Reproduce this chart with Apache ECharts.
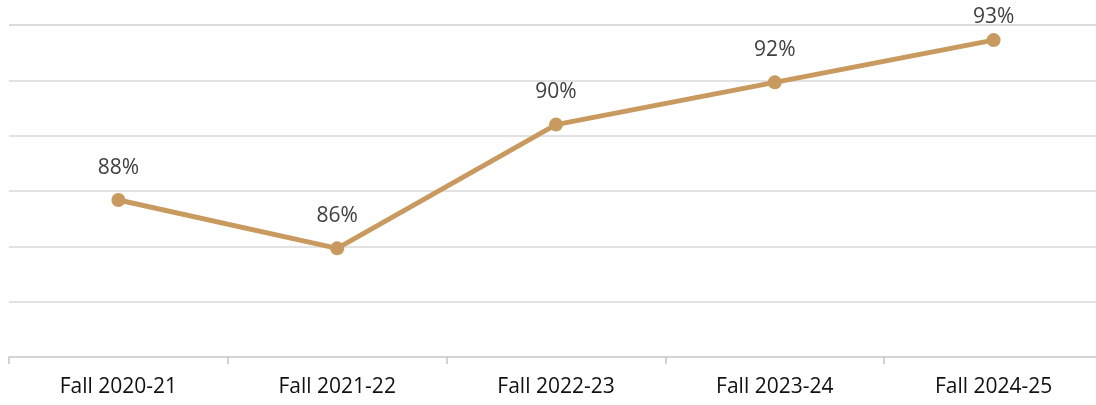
<!DOCTYPE html>
<html>
<head>
<meta charset="utf-8">
<script src="https://cdn.jsdelivr.net/npm/echarts@6/dist/echarts.min.js"></script>
<style>
  html, body { margin: 0; padding: 0; background: #fff; overflow: hidden; }
  /* plot runs a few px past the right edge in the original */
  #chart { width: 1103px; height: 405px; }
</style>
</head>
<body>
<div id="chart"></div>
<script>
// 数据
const terms = ['Fall 2020-21', 'Fall 2021-22', 'Fall 2022-23', 'Fall 2023-24', 'Fall 2024-25'];
const rates = [87.7, 86.1, 90.2, 91.6, 93.0];

const lineColor = '#C99A5F';

// last label sits lower, squeezed by the top edge like in the original
const seriesData = rates.map((v, i) => i === rates.length - 1
  ? { value: v, label: { distance: 6 } }
  : v);

const option = {
  animation: false,
  grid: {
    left: 9,
    top: 25,
    right: 0,
    bottom: 48
  },
  xAxis: {
    type: 'category',
    data: terms,
    axisLine: { lineStyle: { color: '#d0d0d0', width: 1.5 } },
    axisTick: { show: true, length: 7, lineStyle: { color: '#c4c4c4', width: 1.5 } },
    axisLabel: {
      margin: 20,
      fontFamily: 'Open Sans',
      fontSize: 21,
      color: '#111'
    }
  },
  yAxis: {
    type: 'value',
    min: 82.5,
    max: 93.5,
    interval: 11 / 6,
    axisLine: { show: false },
    axisTick: { show: false },
    axisLabel: { show: false },
    splitLine: { lineStyle: { color: '#d9d9d9', width: 1.5 } }
  },
  series: [{
    type: 'line',
    data: seriesData,
    symbol: 'circle',
    symbolSize: 14,
    itemStyle: { color: lineColor },
    lineStyle: { color: lineColor, width: 5 },
    label: {
      show: true,
      position: 'top',
      distance: 15,
      fontFamily: 'Open Sans',
      fontSize: 21,
      color: '#404040',
      formatter: p => Math.round(p.value) + '%'
    }
  }]
};

const chart = echarts.init(document.getElementById('chart'));
chart.setOption(option);
</script>
</body>
</html>
